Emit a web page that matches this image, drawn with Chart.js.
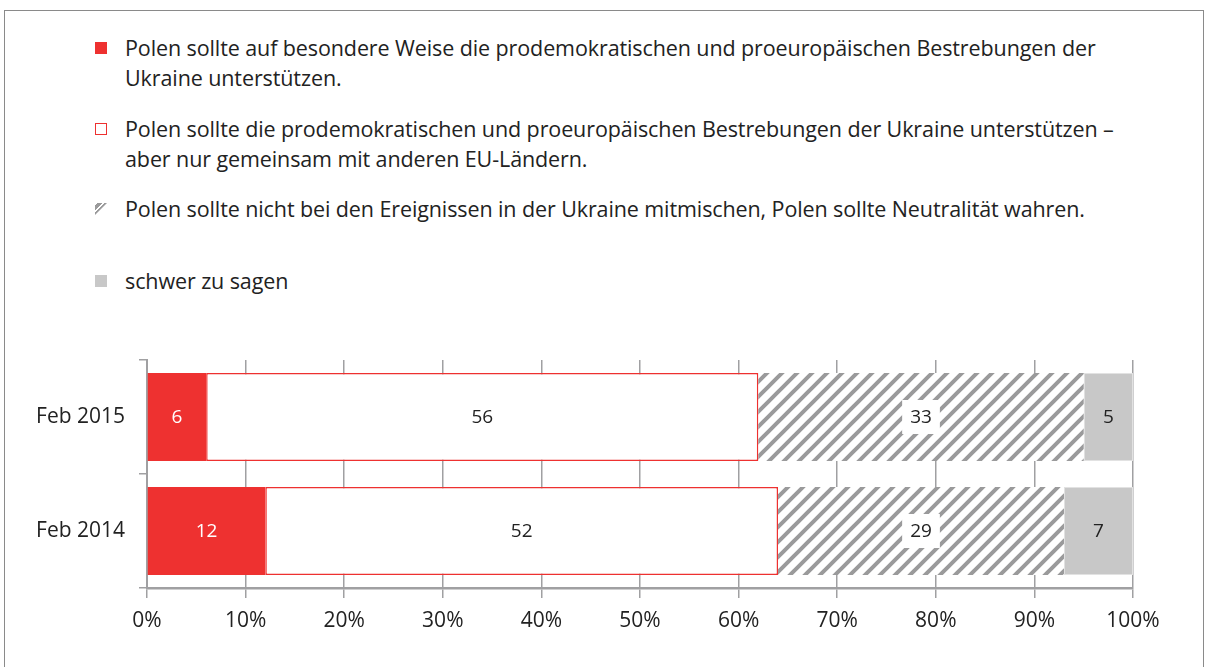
<!DOCTYPE html>
<html>
<head>
<meta charset="utf-8">
<script src="https://cdn.jsdelivr.net/npm/chart.js@4"></script>
<style>
  html, body { margin: 0; padding: 0; background: #fff; }
  body { width: 1208px; height: 667px; position: relative; overflow: hidden; font-family: "Open Sans", sans-serif; color: #222; }
  #frame { position: absolute; left: 4px; top: 10px; width: 1200px; height: 700px; border: 1.5px solid #8a8a8a; box-sizing: border-box; }
  .leg { position: absolute; left: 95px; font-size: 21.5px; line-height: 30px; letter-spacing: -0.1px; }
  .leg .box { position: absolute; left: 0; top: 9px; width: 12px; height: 12px; box-sizing: border-box; }
  .leg .txt { position: absolute; left: 30px; white-space: nowrap; }
  #chartWrap { position: absolute; left: 0; top: 0; width: 1208px; height: 667px; }
</style>
</head>
<body>
<div id="frame"></div>
<div id="legend"></div>
<div id="chartWrap"><canvas id="surveyChart" width="1208" height="667"></canvas></div>
<script>
// data
const categories = ["Feb 2015", "Feb 2014"];
const besondere = [6, 12];
const gemeinsamEU = [56, 52];
const neutral = [33, 29];
const schwer = [5, 7];
const xTickValues = [0, 10, 20, 30, 40, 50, 60, 70, 80, 90, 100];

const legendTexts = [
  "Polen sollte auf besondere Weise die prodemokratischen und proeuropäischen Bestrebungen der<br>Ukraine unterstützen.",
  "Polen sollte die prodemokratischen und proeuropäischen Bestrebungen der Ukraine unterstützen –<br>aber nur gemeinsam mit anderen EU-Ländern.",
  "Polen sollte nicht bei den Ereignissen in der Ukraine mitmischen, Polen sollte Neutralität wahren.",
  "schwer zu sagen"
];

const RED = "#ee3130";
const GREY = "#c8c8c8";
const HATCH = "#9a9a9b";

// hatched pattern for the "neutral" bars
function makeHatch() {
  const c = document.createElement("canvas");
  c.width = 15; c.height = 15;
  const g = c.getContext("2d");
  g.fillStyle = "#fff";
  g.fillRect(0, 0, 15, 15);
  g.strokeStyle = HATCH;
  g.lineWidth = 4;
  g.beginPath();
  g.moveTo(-5, 20); g.lineTo(20, -5);
  g.moveTo(-20, 20); g.lineTo(5, -5);
  g.moveTo(10, 20); g.lineTo(35, -5);
  g.stroke();
  return g.createPattern(c, "repeat");
}
const hatch = makeHatch();

// html legend
const legendTops = [33, 114, 194, 266];
const legendBoxes = [
  "background:" + RED + ";",
  "background:#fff;border:1.5px solid " + RED + ";",
  "background:repeating-linear-gradient(135deg,#fff 0 2px," + HATCH + " 2px 5px);clip-path:polygon(0 0,100% 0,0 100%);",
  "background:" + GREY + ";"
];
const legendEl = document.getElementById("legend");
legendTexts.forEach((t, i) => {
  const d = document.createElement("div");
  d.className = "leg";
  d.style.top = legendTops[i] + "px";
  d.innerHTML = '<span class="box" style="' + legendBoxes[i] + '"></span><span class="txt">' + t + '</span>';
  legendEl.appendChild(d);
});

// value labels in the middle of each bar
const valueLabels = {
  id: "valueLabels",
  afterDatasetsDraw(chart) {
    const ctx = chart.ctx;
    ctx.save();
    ctx.font = "19px 'Open Sans'";
    ctx.textAlign = "center";
    ctx.textBaseline = "middle";
    chart.data.datasets.forEach((ds, di) => {
      const meta = chart.getDatasetMeta(di);
      meta.data.forEach((bar, i) => {
        const x = (bar.x + bar.base) / 2;
        const y = bar.y;
        const txt = String(ds.data[i]);
        if (di === 2) {
          const w = ctx.measureText(txt).width + 16;
          ctx.fillStyle = "#fff";
          ctx.fillRect(x - w / 2, y - 17, w, 34);
        }
        ctx.fillStyle = di === 0 ? "#fff" : "#222";
        ctx.fillText(txt, x, y + 1);
      });
    });
    ctx.restore();
  }
};

Chart.defaults.font.family = "'Open Sans', sans-serif";
Chart.defaults.color = "#222";

const ctx = document.getElementById("surveyChart").getContext("2d");
const surveyChart = new Chart(ctx, {
  type: "bar",
  data: {
    labels: categories,
    datasets: [
      { label: "besondere", data: besondere, backgroundColor: RED, borderWidth: 0 },
      { label: "gemeinsam", data: gemeinsamEU, backgroundColor: "#fff", borderColor: RED, borderWidth: 1.5, borderSkipped: false },
      { label: "neutral", data: neutral, backgroundColor: hatch, borderWidth: 0 },
      { label: "schwer", data: schwer, backgroundColor: GREY, borderColor: "#e2e2e2", borderWidth: 1, borderSkipped: false }
    ]
  },
  plugins: [valueLabels],
  options: {
    indexAxis: "y",
    responsive: false,
    animation: false,
    barPercentage: 0.77,
    categoryPercentage: 1,
    layout: { padding: { top: 360, right: 75, bottom: 0, left: 0 } },
    plugins: {
      legend: { display: false },
      tooltip: { enabled: false }
    },
    scales: {
      x: {
        stacked: true,
        min: 0,
        max: 100,
        afterBuildTicks: (s) => { s.ticks = xTickValues.map(v => ({ value: v })); },
        ticks: { callback: (v) => v + "%", font: { size: 21 }, color: "#222", padding: 10, maxRotation: 0 },
        grid: { color: "#a0a0a2", lineWidth: 1.5, tickLength: 10 },
        border: { color: "#a0a0a2", width: 2.5 },
        afterFit: (s) => { s.height = 79; }
      },
      y: {
        stacked: true,
        ticks: { font: { size: 21 }, color: "#222", padding: 14 },
        grid: { drawOnChartArea: false, color: "#a0a0a2", lineWidth: 1.5, tickLength: 8 },
        border: { color: "#a0a0a2", width: 2 },
        afterFit: (s) => { s.width = 147; }
      }
    }
  }
});
</script>
</body>
</html>
